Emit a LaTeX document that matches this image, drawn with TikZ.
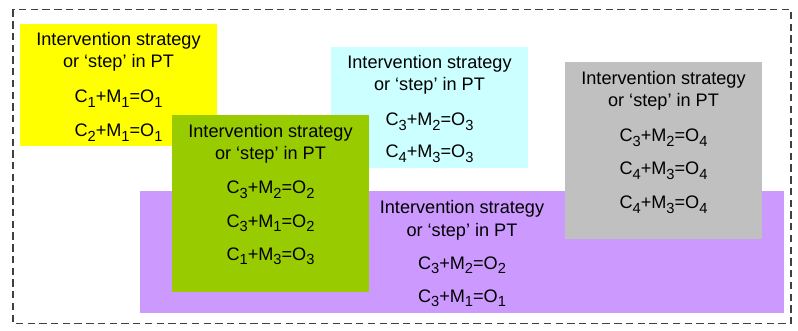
\documentclass[tikz,border=0pt]{standalone}
\usepackage{fontspec}
\setmainfont{Liberation Sans}
\definecolor{byellow}{HTML}{FFFF00}
\definecolor{bgreen}{HTML}{99CC00}
\definecolor{bcyan}{HTML}{CCFFFF}
\definecolor{bgray}{HTML}{C0C0C0}
\definecolor{bpurple}{HTML}{CC99FF}
\definecolor{frame}{HTML}{404040}
\newcommand{\lsub}[1]{\raisebox{-3.6pt}{\fontsize{11}{11}\selectfont #1}}
\newcommand{\cmo}[3]{C\lsub{#1}+M\lsub{#2}=O\lsub{#3}}
\begin{document}
\begin{tikzpicture}[x=0.75pt,y=-0.75pt,
  txt/.style={anchor=base,inner sep=0pt,font=\fontsize{13.6}{16}\selectfont}]
\useasboundingbox (0,0) rectangle (798,331);
\draw[frame,line width=1pt,dash pattern=on 5.5pt off 3.3pt] (13,9.5) rectangle (791,323.5);
% yellow
\fill[byellow] (20,24) rectangle (217,146);
\node[txt] (y1) at (118.5,46) {Intervention strategy};
\node[txt] (y2) at (118.5,68) {or ‘step’ in PT};
\node[txt] (y3) at (118.5,103) {\cmo{1}{1}{1}};
\node[txt] (y4) at (118.5,137) {\cmo{2}{1}{1}};
% cyan
\fill[bcyan] (331,47) rectangle (528,168);
\node[txt] (c1) at (429.5,69) {Intervention strategy};
\node[txt] (c2) at (429.5,91) {or ‘step’ in PT};
\node[txt] (c3) at (429.5,126) {\cmo{3}{2}{3}};
\node[txt] (c4) at (429.5,158) {\cmo{4}{3}{3}};
% purple
\fill[bpurple] (140,191) rectangle (784,313);
\node[txt] (p1) at (462,214) {Intervention strategy};
\node[txt] (p2) at (462,236) {or ‘step’ in PT};
\node[txt] (p3) at (462,269) {\cmo{3}{2}{2}};
\node[txt] (p4) at (462,302) {\cmo{3}{1}{1}};
% green
\fill[bgreen] (172,115) rectangle (369,292);
\node[txt] (g1) at (270.5,138) {Intervention strategy};
\node[txt] (g2) at (270.5,160) {or ‘step’ in PT};
\node[txt] (g3) at (270.5,194) {\cmo{3}{2}{2}};
\node[txt] (g4) at (270.5,227) {\cmo{3}{1}{2}};
\node[txt] (g5) at (270.5,260) {\cmo{1}{3}{3}};
% gray
\fill[bgray] (565,62) rectangle (762,239);
\node[txt] (r1) at (663.5,85) {Intervention strategy};
\node[txt] (r2) at (663.5,107) {or ‘step’ in PT};
\node[txt] (r3) at (663.5,142) {\cmo{3}{2}{4}};
\node[txt] (r4) at (663.5,175) {\cmo{4}{3}{4}};
\node[txt] (r5) at (663.5,209) {\cmo{4}{3}{4}};
\end{tikzpicture}
\end{document}
